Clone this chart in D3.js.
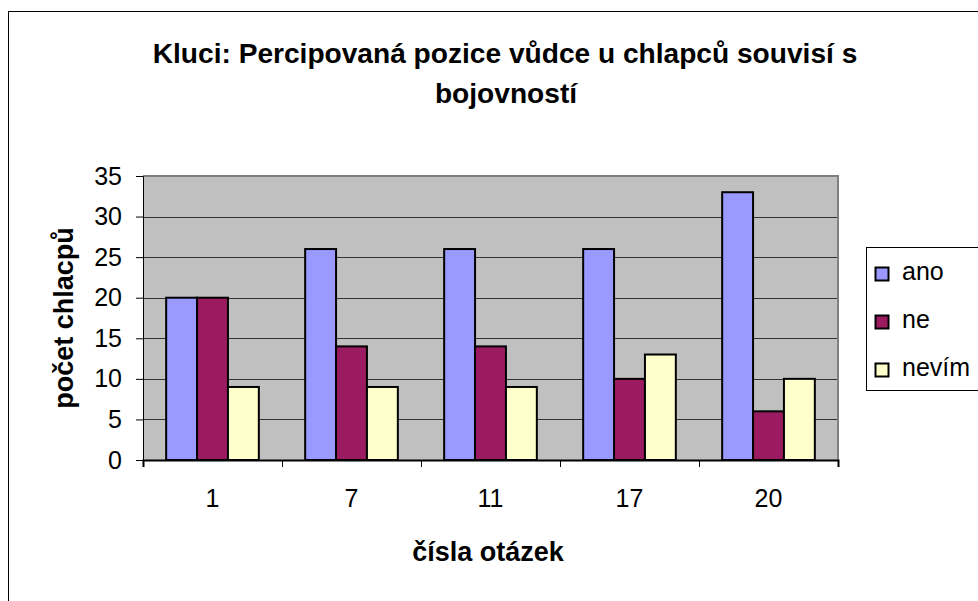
<!DOCTYPE html>
<html>
<head>
<meta charset="utf-8">
<script src="https://cdn.jsdelivr.net/npm/d3@7"></script>
<style>
  body { margin: 0; background: #fff; }
  svg { display: block; font-family: Arial, "Liberation Sans", sans-serif; }
</style>
</head>
<body>
<div class="chart"></div>
<script>
const width = 978;
const height = 601;

const categories = ['1', '7', '11', '17', '20'];
const seriesNames = ['ano', 'ne', 'nevím'];
const ano = [20, 26, 26, 26, 33];
const ne = [20, 14, 14, 10, 6];
const nevim = [9, 9, 9, 13, 10];
const yTicks = [0, 5, 10, 15, 20, 25, 30, 35];
const colors = ['#9999ff', '#9b1b60', '#ffffcc'];

const series = [ano, ne, nevim];

const plot = { left: 143, right: 838, top: 176, bottom: 460 };

const svg = d3.select('.chart').append('svg')
  .attr('width', width)
  .attr('height', height)

// move x/y into a transform so the glyphs can be squeezed to a width
function stretch(sel, sx) {
  sel.each(function () {
    const t = d3.select(this);
    const x = +t.attr('x') || 0;
    const y = +t.attr('y') || 0;
    t.attr('x', 0).attr('y', 0)
      .attr('transform', `translate(${x},${y}) scale(${sx},1)`);
  });
}

// outer chart border
svg.append('rect')
  .attr('x', 8.5).attr('y', 11.5)
  .attr('width', width).attr('height', height)
  .attr('fill', '#fff').attr('stroke', '#000').attr('stroke-width', 1)

const x0 = d3.scaleBand()
  .domain(categories)
  .range([plot.left, plot.right])
  .paddingInner(1 / 3)
  .paddingOuter(1 / 6)

const x1 = d3.scaleBand()
  .domain(seriesNames)
  .range([0, x0.bandwidth()])

const y = d3.scaleLinear()
  .domain([0, 35])
  .range([plot.bottom, plot.top])

// plot background
svg.append('rect')
  .attr('x', plot.left).attr('y', plot.top)
  .attr('width', plot.right - plot.left).attr('height', plot.bottom - plot.top)
  .attr('fill', '#c0c0c0')

// gridlines
svg.append('g')
  .selectAll('line')
  .data(yTicks.filter(d => d > 0 && d < 35))
  .enter().append('line')
  .attr('x1', plot.left).attr('x2', plot.right)
  .attr('y1', d => Math.round(y(d)) + 0.5).attr('y2', d => Math.round(y(d)) + 0.5)
  .attr('stroke', '#333').attr('stroke-width', 1)

// plot border top/right
svg.append('path')
  .attr('d', `M${plot.left},${plot.top} H${plot.right} V${plot.bottom}`)
  .attr('fill', 'none').attr('stroke', '#808080').attr('stroke-width', 2)

// bars
const groups = svg.append('g').selectAll('g')
  .data(categories)
  .enter().append('g')
  .attr('transform', d => `translate(${x0(d)},0)`)

groups.selectAll('rect')
  .data((c, i) => seriesNames.map((s, j) => ({ s, j, v: series[j][i] })))
  .enter().append('rect')
  .attr('x', d => x1(d.s))
  .attr('y', d => y(d.v))
  .attr('width', x1.bandwidth())
  .attr('height', d => y(0) - y(d.v))
  .attr('fill', d => colors[d.j])
  .attr('stroke', '#000')
  .attr('stroke-width', 2)

// y axis
const yAxis = d3.axisLeft(y).tickValues(yTicks).tickSize(7).tickPadding(14)
const gy = svg.append('g')
  .attr('transform', `translate(${plot.left},0)`)
  .call(yAxis)
gy.select('.domain').attr('stroke', '#000').attr('stroke-width', 1)
gy.selectAll('.tick line').attr('stroke', '#000')
gy.selectAll('text')
  .attr('font-size', 25).attr('fill', '#000')
  .attr('font-family', 'Arial, "Liberation Sans", sans-serif')

// x axis: ticks between categories
const xAxisScale = d3.scalePoint()
  .domain(d3.range(categories.length + 1))
  .range([plot.left, plot.right])
const gx = svg.append('g')
  .attr('transform', `translate(0,${plot.bottom})`)
  .call(d3.axisBottom(xAxisScale).tickSize(7).tickFormat(''))
gx.select('.domain').attr('stroke', '#000').attr('stroke-width', 2)
gx.selectAll('.tick line').attr('stroke', '#000')

svg.append('g').selectAll('text')
  .data(categories)
  .enter().append('text')
  .attr('x', d => x0(d) + x0.bandwidth() / 2)
  .attr('y', 507)
  .attr('text-anchor', 'middle')
  .attr('font-size', 25)
  .text(d => d)

// title
const t1 = svg.append('text')
  .attr('x', 505).attr('y', 63)
  .attr('text-anchor', 'middle')
  .attr('font-weight', 'bold').attr('font-size', 28)
  .text('Kluci: Percipovaná pozice vůdce u chlapců souvisí s')
const titleSx = 705 / t1.node().getComputedTextLength();
t1.call(stretch, titleSx)

svg.append('text')
  .attr('x', 506).attr('y', 103)
  .attr('text-anchor', 'middle')
  .attr('font-weight', 'bold').attr('font-size', 28)
  .text('bojovností')
  .call(stretch, titleSx)

// axis titles
svg.append('text')
  .attr('x', 488).attr('y', 561)
  .attr('text-anchor', 'middle')
  .attr('font-weight', 'bold').attr('font-size', 27)
  .text('čísla otázek')

svg.append('text')
  .attr('transform', 'translate(73,318) rotate(-90)')
  .attr('text-anchor', 'middle')
  .attr('font-weight', 'bold').attr('font-size', 27)
  .text('počet chlacpů')

// legend
svg.append('rect')
  .attr('x', 866.5).attr('y', 247.5)
  .attr('width', 130).attr('height', 143)
  .attr('fill', '#fff').attr('stroke', '#000')

const items = svg.append('g').selectAll('g')
  .data(seriesNames)
  .enter().append('g')
  .attr('transform', (d, i) => `translate(875,${274 + i * 48})`)
items.append('rect')
  .attr('x', 0.5).attr('y', -6.5)
  .attr('width', 13).attr('height', 13)
  .attr('fill', (d, i) => colors[i])
  .attr('stroke', '#000').attr('stroke-width', 2)
items.append('text')
  .attr('x', 27).attr('y', 6)
  .attr('font-size', 25)
  .text(d => d)
</script>
</body>
</html>
